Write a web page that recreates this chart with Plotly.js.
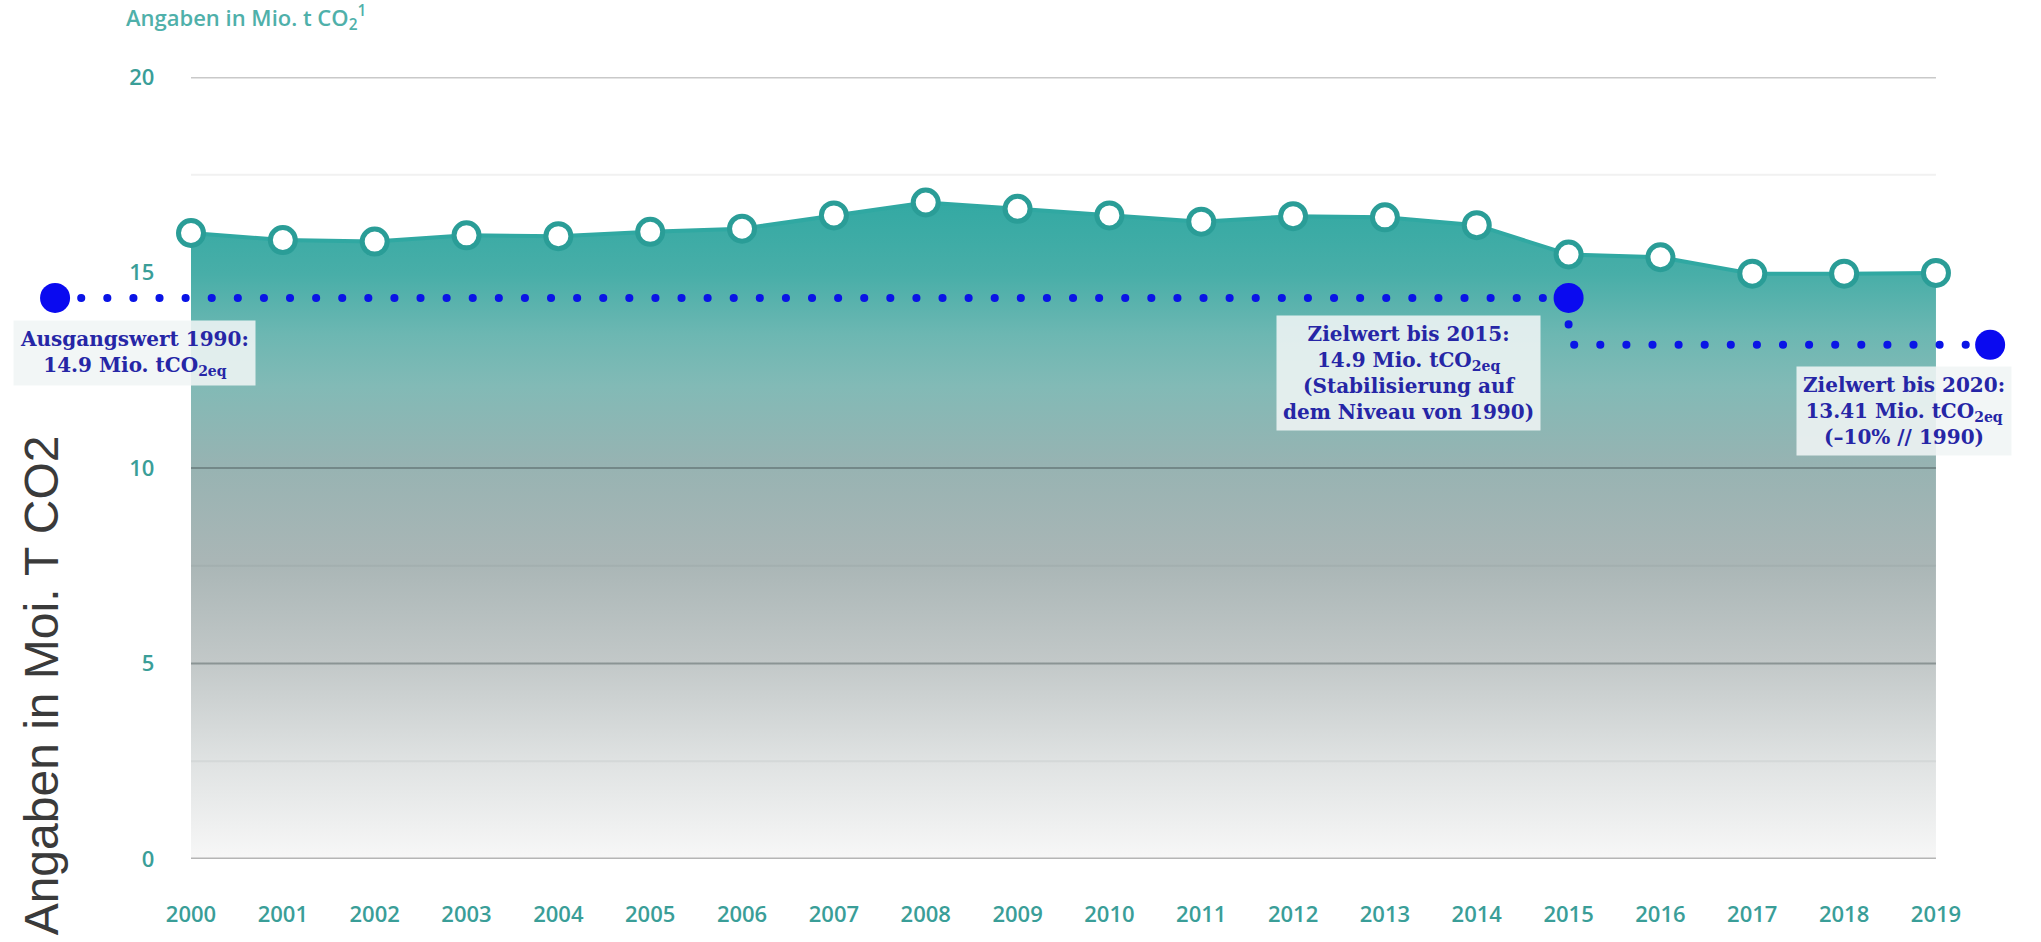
<!DOCTYPE html>
<html>
<head>
<meta charset="utf-8">
<script src="https://cdn.plot.ly/plotly-3.0.1.min.js"></script>
<style>
  html, body { margin: 0; padding: 0; background: #fff; }
  #chart { width: 2041px; height: 942px; }
  .js-line[style*="0.1px"] { stroke-linecap: round !important; }
</style>
</head>
<body>
<div id="chart"></div>
<script>
// ---- data ----
const years = [2000, 2001, 2002, 2003, 2004, 2005, 2006, 2007, 2008, 2009,
               2010, 2011, 2012, 2013, 2014, 2015, 2016, 2017, 2018, 2019];
const yearLabels = ["2000", "2001", "2002", "2003", "2004", "2005", "2006", "2007", "2008", "2009",
                    "2010", "2011", "2012", "2013", "2014", "2015", "2016", "2017", "2018", "2019"];
const emissions = [16.01, 15.83, 15.79, 15.95, 15.93, 16.04, 16.12, 16.46, 16.79, 16.63,
                   16.46, 16.30, 16.44, 16.41, 16.21, 15.46, 15.39, 14.97, 14.97, 14.99];
// target path as drawn (1990 baseline -> 2015 target -> 2020 target)
const targetX = [1998.52, 2015, 2015, 2019.59];
const targetY = [14.35, 14.35, 13.15, 13.15];
const targetPointX = [1998.52, 2015, 2019.59];
const targetPointY = [14.35, 14.35, 13.15];
const yTicks = [0, 5, 10, 15, 20];
const yTickLabels = ["0", "5", "10", "15", "20"];
const gridMajor = [5, 10];
const gridMinor = [2.5, 7.5];
const gridTop = [20];
const gridFaint = [17.5];

const tealTick = '#3a9e98';
const tickFont = { family: 'Open Sans, Noto Sans, sans-serif', size: 22, color: tealTick, weight: 600 };
const blueText = '#2626a6';
const labelFont = { family: 'DejaVu Serif, Liberation Serif, serif', size: 20, color: blueText, weight: 700 };

const traces = [
  {
    x: years, y: emissions, type: 'scatter', mode: 'lines+markers',
    fill: 'tozeroy',
    fillgradient: {
      type: 'vertical', start: 0, stop: 16.8,
      colorscale: [
        [0.00, '#f7f7f7'],
        [0.15, '#dfe2e2'],
        [0.30, '#c2c8c8'],
        [0.45, '#aab6b6'],
        [0.60, '#97b3b2'],
        [0.72, '#82bab6'],
        [0.80, '#6cb7b2'],
        [0.89, '#48aea8'],
        [1.00, '#33a9a3']
      ]
    },
    line: { color: '#30a8a2', width: 4 },
    marker: { size: 25, color: '#ffffff', line: { color: '#2a9d97', width: 5 } },
    hoverinfo: 'x+y', cliponaxis: false
  },
  {
    x: targetX, y: targetY, type: 'scatter', mode: 'lines',
    line: { color: '#0a14e6', width: 8, dash: '0.1px,26px' },
    hoverinfo: 'skip'
  },
  {
    x: targetPointX, y: targetPointY, type: 'scatter', mode: 'markers',
    marker: { size: 30, color: '#0a0af0' },
    cliponaxis: false, hoverinfo: 'skip'
  }
];

const shapes = [];
gridTop.forEach(v => shapes.push({ type: 'line', xref: 'x', yref: 'y', x0: 2000, x1: 2019, y0: v, y1: v,
  line: { color: '#c9c9c9', width: 3 }, layer: 'below' }));
gridFaint.forEach(v => shapes.push({ type: 'line', xref: 'x', yref: 'y', x0: 2000, x1: 2019, y0: v, y1: v,
  line: { color: '#f1f1f1', width: 2 }, layer: 'below' }));
gridMajor.forEach(v => shapes.push({ type: 'line', xref: 'x', yref: 'y', x0: 2000, x1: 2019, y0: v, y1: v,
  line: { color: 'rgba(70,85,85,0.45)', width: 2 }, layer: 'above' }));
gridMinor.forEach(v => shapes.push({ type: 'line', xref: 'x', yref: 'y', x0: 2000, x1: 2019, y0: v, y1: v,
  line: { color: 'rgba(70,85,85,0.07)', width: 2 }, layer: 'above' }));
shapes.push({ type: 'line', xref: 'x', yref: 'y', x0: 2000, x1: 2019, y0: 0, y1: 0,
  line: { color: '#b5b5b5', width: 3 }, layer: 'above' });

const boxBg = 'rgba(240,245,245,0.88)';
const annotations = [
  {
    xref: 'x', yref: 'y', x: 1999.38, y: 12.95, xanchor: 'center', yanchor: 'middle',
    text: 'Ausgangswert 1990:<br>14.9 Mio. tCO<sub>2eq</sub>',
    showarrow: false, font: labelFont, bgcolor: boxBg, borderpad: 6, align: 'center'
  },
  {
    xref: 'x', yref: 'y', x: 2013.26, y: 12.43, xanchor: 'center', yanchor: 'middle',
    text: 'Zielwert bis 2015:<br>14.9 Mio. tCO<sub>2eq</sub><br>(Stabilisierung auf<br>dem Niveau von 1990)',
    showarrow: false, font: labelFont, bgcolor: boxBg, borderpad: 6, align: 'center'
  },
  {
    xref: 'x', yref: 'y', x: 2018.65, y: 11.45, xanchor: 'center', yanchor: 'middle',
    text: 'Zielwert bis 2020:<br>13.41 Mio. tCO<sub>2eq</sub><br>(–10% // 1990)',
    showarrow: false, font: labelFont, bgcolor: boxBg, borderpad: 6, align: 'center'
  },
  {
    xref: 'paper', yref: 'paper', x: 0.0055, y: 0.222, xanchor: 'center', yanchor: 'middle',
    text: 'Angaben in Moi. T CO2', textangle: -90, showarrow: false,
    font: { family: 'Liberation Sans, Arial, sans-serif', size: 48, color: '#3a3a3a' }
  }
];

const layout = {
  width: 2041, height: 942,
  margin: { l: 30, r: 20, t: 77, b: 83, pad: 0 },
  paper_bgcolor: '#ffffff', plot_bgcolor: 'rgba(0,0,0,0)',
  showlegend: false,
  title: {
    text: 'Angaben in Mio. t CO<sub>2</sub><sup>1</sup>',
    xref: 'container', yref: 'container', x: 126 / 2041, xanchor: 'left',
    y: 1 - 18 / 942, yanchor: 'middle',
    font: { family: 'Open Sans, sans-serif', size: 22, color: '#4fb0aa', weight: 600 }
  },
  xaxis: {
    range: [1998.247, 2019.926], tickmode: 'array', tickvals: years, ticktext: yearLabels,
    showgrid: false, zeroline: false, showline: false, ticks: '',
    ticklabelstandoff: 40, tickfont: tickFont, fixedrange: true
  },
  yaxis: {
    range: [0, 20], tickmode: 'array', tickvals: yTicks, ticktext: yTickLabels,
    showgrid: false, zeroline: false, showline: false, ticks: '',
    anchor: 'free', position: 0.0625, tickfont: tickFont, fixedrange: true
  },
  shapes: shapes,
  annotations: annotations
};

Plotly.newPlot('chart', traces, layout, { displayModeBar: false, staticPlot: true });
</script>
</body>
</html>
